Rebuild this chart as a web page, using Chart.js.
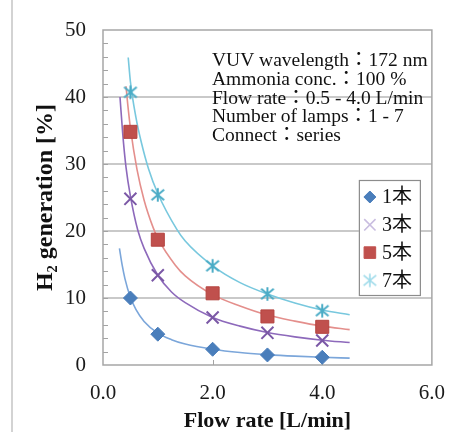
<!DOCTYPE html>
<html><head><meta charset="utf-8">
<script src="https://cdn.jsdelivr.net/npm/chart.js@4.4.0/dist/chart.umd.min.js"></script>
<style>html,body{margin:0;padding:0;background:#fff;} #wrap{width:461px;height:432px;position:relative;}</style>
</head><body><div id="wrap"><canvas id="c" width="461" height="432"></canvas></div>
<script>
// ---------- data ----------
const flowRates = [0.5, 1.0, 2.0, 3.0, 4.0];
const seriesNames = ['1本', '3本', '5本', '7本'];
const lamp1 = [10.0, 4.6, 2.35, 1.5, 1.15];
const lamp3 = [24.8, 13.4, 7.1, 4.8, 3.65];
const lamp5 = [34.8, 18.7, 10.7, 7.25, 5.7];
const lamp7 = [40.7, 25.4, 14.8, 10.6, 8.1];
// trend curves
const fit1X = [0.30, 0.35, 0.40, 0.50, 0.60, 0.75, 1.0, 1.25, 1.5, 2.0, 2.5, 3.0, 3.5, 4.0, 4.5];
const fit1Y = [17.4, 14.9, 12.9, 10.1, 8.3, 6.5, 4.75, 3.78, 3.12, 2.35, 1.86, 1.55, 1.32, 1.15, 1.02];
const fit3X = [0.31, 0.36, 0.42, 0.50, 0.635, 0.75, 1.0, 1.25, 1.5, 2.0, 2.5, 3.0, 3.5, 4.0, 4.5];
const fit3Y = [40.0, 34.5, 29.5, 25.2, 20.1, 17.4, 13.4, 10.9, 9.3, 7.1, 5.8, 4.85, 4.2, 3.7, 3.35];
const fit5X = [0.42, 0.45, 0.50, 0.62, 0.75, 0.915, 1.0, 1.32, 1.5, 2.0, 2.5, 3.0, 3.5, 4.0, 4.5];
const fit5Y = [41.6, 39.0, 35.4, 29.2, 24.6, 20.5, 18.9, 14.9, 13.3, 10.5, 8.8, 7.45, 6.55, 5.8, 5.28];
const fit7X = [0.46, 0.50, 0.60, 0.70, 0.83, 1.0, 1.35, 1.5, 2.0, 2.5, 3.0, 3.5, 4.0, 4.5];
const fit7Y = [45.9, 42.3, 37.0, 33.2, 29.3, 25.6, 20.2, 18.5, 14.8, 12.3, 10.6, 9.25, 8.2, 7.5];
const xTickValues = [0, 2, 4, 6];
const yTickValues = [0, 10, 20, 30, 40, 50];
const yMinorStep = 2;
const xTitle = 'Flow rate [L/min]';
const yTitle = 'H₂ generation [%]';
const noteLines = ['VUV wavelength：172 nm', 'Ammonia conc.：100 %', 'Flow rate：0.5 - 4.0 L/min', 'Number of lamps：1 - 7', 'Connect：series'];

// ---------- styles ----------
const SERIF = "'Liberation Serif', 'Times New Roman', 'Noto Sans CJK JP', serif";
const markerColors = ['#4a7ebb', '#7b58a6', '#c0504d', '#4bacc6'];
const curveColors = ['#7ba6da', '#8d69bb', '#e48f8c', '#78c8de'];
const legendColors = ['#4a7ebb', '#c9bde0', '#c0504d', '#9fdbea'];

function makeAsterisk(color, lw) {
  const s = 16, c = document.createElement('canvas');
  c.width = s; c.height = s;
  const g = c.getContext('2d');
  g.strokeStyle = color; g.lineWidth = lw;
  const m = s / 2;
  g.beginPath();
  g.moveTo(m, m - 6.8); g.lineTo(m, m + 6.8);
  g.moveTo(m - 6.3, m - 5.2); g.lineTo(m + 6.3, m + 5.2);
  g.moveTo(m - 6.3, m + 5.2); g.lineTo(m + 6.3, m - 5.2);
  g.stroke();
  return c;
}
const asteriskMain = makeAsterisk(markerColors[3], 2);
const asteriskLegend = makeAsterisk(legendColors[3], 1.6);

const pts = (xs, ys) => xs.map((x, i) => ({x, y: ys[i]}));
const markerStyles = [
  {pointStyle: 'rectRot', pointRadius: 7, pointBackgroundColor: markerColors[0], pointBorderColor: markerColors[0], pointBorderWidth: 1},
  {pointStyle: 'crossRot', pointRadius: 8.5, pointBackgroundColor: markerColors[1], pointBorderColor: markerColors[1], pointBorderWidth: 2},
  {pointStyle: 'rect', pointRadius: 9.2, pointBackgroundColor: markerColors[2], pointBorderColor: '#b4433f', pointBorderWidth: 1},
  {pointStyle: asteriskMain, pointRadius: 8, pointBackgroundColor: markerColors[3], pointBorderColor: markerColors[3], pointBorderWidth: 2}
];
const markerSeries = [lamp1, lamp3, lamp5, lamp7];
const fitSeries = [[fit1X, fit1Y], [fit3X, fit3Y], [fit5X, fit5Y], [fit7X, fit7Y]];

const datasets = [];
fitSeries.forEach((f, i) => datasets.push({
  label: seriesNames[i] + ' fit', data: pts(f[0], f[1]), showLine: true,
  borderColor: curveColors[i], borderWidth: 1.6, pointRadius: 0, pointHoverRadius: 0,
  cubicInterpolationMode: 'monotone', order: 2
}));
markerSeries.forEach((s, i) => datasets.push(Object.assign({
  label: seriesNames[i], data: pts(flowRates, s), showLine: false, order: 1
}, markerStyles[i])));

const deco = {
  id: 'deco',
  beforeDraw(chart) {
    const ctx = chart.ctx;
    ctx.save();
    ctx.fillStyle = '#fff';
    ctx.fillRect(0, 0, chart.width, chart.height);
    ctx.strokeStyle = '#c4c4c4'; ctx.lineWidth = 1.5;
    ctx.beginPath(); ctx.moveTo(12, 0); ctx.lineTo(12, chart.height); ctx.stroke();
    ctx.restore();
  },
  beforeDatasetsDraw(chart) {
    const {ctx, chartArea: a, scales: {x, y}} = chart;
    ctx.save();
    ctx.strokeStyle = '#a3a3a3'; ctx.lineWidth = 1;
    ctx.beginPath();
    for (let v = y.min + yMinorStep; v < y.max; v += yMinorStep) {
      const py = Math.round(y.getPixelForValue(v)) + 0.5;
      ctx.moveTo(a.left, py); ctx.lineTo(a.left + 5, py);
    }
    xTickValues.forEach(v => {
      if (v > x.min && v < x.max) {
        const px = Math.round(x.getPixelForValue(v)) + 0.5;
        ctx.moveTo(px, a.bottom); ctx.lineTo(px, a.bottom - 5);
      }
    });
    ctx.stroke();
    ctx.strokeStyle = '#a6a6a6'; ctx.lineWidth = 1.5;
    ctx.strokeRect(a.left, a.top, a.right - a.left, a.bottom - a.top);
    ctx.restore();
  },
  afterDraw(chart) {
    const {ctx, chartArea: a} = chart;
    ctx.save();
    ctx.fillStyle = '#111';
    ctx.font = "19.5px " + SERIF;
    ctx.textBaseline = 'alphabetic';
    ctx.textAlign = 'left';
    noteLines.forEach((t, i) => ctx.fillText(t, a.left + 109, a.top + 36 + i * 18.8));
    // legend box
    const lx = a.right - 73, ly = a.top + 150, lw = 61, lh = 115;
    ctx.fillStyle = '#fff';
    ctx.fillRect(lx, ly, lw, lh);
    ctx.strokeStyle = '#8c8c8c'; ctx.lineWidth = 1.2;
    ctx.strokeRect(lx + 0.5, ly + 0.5, lw, lh);
    ctx.font = "20px " + SERIF;
    ctx.textBaseline = 'middle';
    seriesNames.forEach((n, i) => {
      const cy = ly + 17 + i * 27.8, cx = lx + 11;
      const st = markerStyles[i];
      ctx.save();
      if (i === 3) {
        ctx.drawImage(asteriskLegend, cx - 8, cy - 8);
      } else {
        ctx.fillStyle = legendColors[i]; ctx.strokeStyle = legendColors[i];
        ctx.lineWidth = i === 1 ? 1.6 : 1;
        Chart.helpers.drawPoint(ctx, {pointStyle: st.pointStyle, radius: i === 0 ? 6 : (i === 1 ? 8 : 8.2), rotation: 0, borderWidth: ctx.lineWidth}, cx, cy);
      }
      ctx.restore();
      ctx.fillStyle = '#111';
      ctx.fillText(n, lx + 23, cy + 1);
    });
    ctx.restore();
  }
};

new Chart(document.getElementById('c'), {
  type: 'scatter',
  data: {datasets},
  options: {
    responsive: false, animation: false, devicePixelRatio: 1,
    layout: {padding: {left: 0, top: 30, right: 16, bottom: 0}},
    plugins: {legend: {display: false}, tooltip: {enabled: false}},
    scales: {
      x: {
        type: 'linear', min: 0, max: 6,
        afterBuildTicks: s => { s.ticks = xTickValues.map(v => ({value: v})); },
        afterFit: s => { s.height = 67; },
        ticks: {callback: v => Number(v).toFixed(1), color: '#1a1a1a', font: {family: SERIF, size: 21}, padding: 16, maxRotation: 0},
        grid: {display: false, drawTicks: false},
        border: {display: false},
        title: {display: true, text: xTitle, color: '#111', font: {family: SERIF, size: 22, weight: 'bold', lineHeight: 1}, padding: {top: 0, bottom: 0}}
      },
      y: {
        type: 'linear', min: 0, max: 50,
        afterBuildTicks: s => { s.ticks = yTickValues.map(v => ({value: v})); },
        afterFit: s => { s.width = 103; },
        ticks: {color: '#1a1a1a', font: {family: SERIF, size: 21}, padding: 17},
        grid: {drawTicks: false, lineWidth: 2, color: c => (c.tick && c.tick.value > 0 && c.tick.value < 50) ? '#c9c9c9' : 'rgba(0,0,0,0)'},
        border: {display: false},
        title: {display: true, text: yTitle, color: '#111', font: {family: SERIF, size: 24, weight: 'bold', lineHeight: 1}, padding: {top: 34, bottom: 0}}
      }
    }
  },
  plugins: [deco]
});
</script>
</body></html>
